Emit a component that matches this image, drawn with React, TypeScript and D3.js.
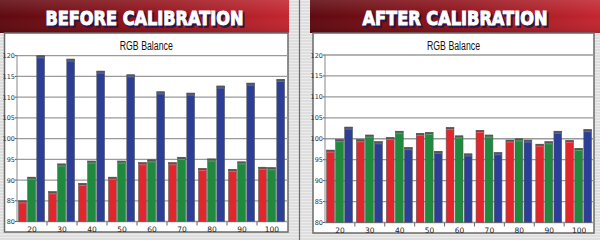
import React from 'react';
import * as d3 from 'd3';

const categories = ['20', '30', '40', '50', '60', '70', '80', '90', '100'];
const beforeRed = [85, 87.2, 89.2, 90.7, 94.2, 94.2, 92.8, 92.6, 93.1];
const beforeGreen = [90.7, 93.9, 94.6, 94.6, 94.9, 95.5, 95.1, 94.4, 93.0];
const beforeBlue = [120, 119.2, 116.3, 115.4, 111.3, 111.0, 112.7, 113.4, 114.3];
const afterRed = [97.3, 99.8, 100.3, 101.3, 102.7, 102.0, 99.7, 98.7, 99.6];
const afterGreen = [99.8, 100.9, 101.8, 101.5, 100.7, 100.9, 100.0, 99.3, 97.7];
const afterBlue = [102.8, 99.3, 97.9, 97.0, 96.4, 96.7, 99.7, 101.8, 102.2];
const yTicks = [80, 85, 90, 95, 100, 105, 110, 115, 120];
const seriesKeys = ['R', 'G', 'B'];
const seriesColors = ['#e3262c', '#1f8a3e', '#2b3f98'];
const panelTitles = ['BEFORE CALIBRATION', 'AFTER CALIBRATION'];
const chartTitle = 'RGB Balance';

type PanelProps = {
  title: string;
  data: number[][];
  headerX0: number;
  headerX1: number;
  boxX0: number;
  boxX1: number;
  boxY1: number;
  plotX0: number;
  plotX1: number;
  yTop: number;
  yBottom: number;
  gid: string;
  titleLen: number;
};

function Panel(p: PanelProps) {
  const x0 = d3.scaleBand<string>().domain(categories).range([p.plotX0, p.plotX1]).paddingInner(0).paddingOuter(0);
  const step = x0.bandwidth();
  const x1 = d3.scaleBand<string>().domain(seriesKeys).range([1.6, step - 2.4]).paddingInner(0.14);
  const y = d3.scaleLinear().domain([80, 120]).range([p.yBottom, p.yTop]);
  const cx = (p.headerX0 + p.headerX1) / 2;
  const boxCx = (p.boxX0 + p.boxX1) / 2;
  return (
    <g>
      <defs>
        <linearGradient id={p.gid} x1="0" x2="1" y1="0" y2="0">
          <stop offset="0" stopColor="#5e0a10" />
          <stop offset="0.5" stopColor="#8e121a" />
          <stop offset="1" stopColor="#c42630" />
        </linearGradient>
        <linearGradient id={p.gid + 'v'} x1="0" x2="0" y1="0" y2="1">
          <stop offset="0" stopColor="#ffffff" stopOpacity="0.12" />
          <stop offset="0.5" stopColor="#ffffff" stopOpacity="0" />
          <stop offset="1" stopColor="#000000" stopOpacity="0.1" />
        </linearGradient>
      </defs>
      <rect x={p.headerX0} y={0} width={p.headerX1 - p.headerX0} height={33} fill={`url(#${p.gid})`} />
      <rect x={p.headerX0} y={0} width={p.headerX1 - p.headerX0} height={33} fill={`url(#${p.gid}v)`} />
      <text x={cx + 1.5} y={26.5} textAnchor="middle" fontFamily="DejaVu Sans" fontWeight="bold" fontSize={20}
        textLength={p.titleLen} lengthAdjust="spacingAndGlyphs" fill="#2a1648" stroke="#2a1648" strokeWidth={1.6}>{p.title}</text>
      <text x={cx} y={25} textAnchor="middle" fontFamily="DejaVu Sans" fontWeight="bold" fontSize={20}
        textLength={p.titleLen} lengthAdjust="spacingAndGlyphs" fill="#ffffff" stroke="#ffffff" strokeWidth={1}>{p.title}</text>
      <rect x={p.boxX0} y={33} width={p.boxX1 - p.boxX0} height={p.boxY1 - 33} fill="#ffffff" stroke="#6a6a6a" strokeWidth={1.5} />
      <text x={boxCx} y={50} textAnchor="middle" fontFamily="Liberation Sans" fontSize={12} fill="#111"
        textLength={53} lengthAdjust="spacingAndGlyphs">{chartTitle}</text>
      {yTicks.map((t) => (
        <g key={t}>
          <line x1={p.plotX0} x2={p.boxX1} y1={y(t)} y2={y(t)} stroke="#9a9a9a" strokeWidth={1.3} />
          <line x1={p.plotX0 - 2} x2={p.plotX0} y1={y(t)} y2={y(t)} stroke="#555" strokeWidth={1} />
          <text x={p.plotX0 - 2} y={y(t) + 2.5} textAnchor="end" fontFamily="DejaVu Sans" fontSize={6.5} fill="#333">{t}</text>
        </g>
      ))}
      <line x1={p.plotX0} x2={p.plotX0} y1={y(120)} y2={y(80)} stroke="#888" strokeWidth={1} />
      {categories.map((c, i) => (
        <g key={c}>
          {i > 0 && <line x1={x0(c)!} x2={x0(c)!} y1={y(80)} y2={y(80) + 4} stroke="#666" strokeWidth={1} />}
          <text x={x0(c)! + step / 2} y={y(80) + 10} textAnchor="middle" fontFamily="DejaVu Sans" fontSize={7.5} fill="#222">{c}</text>
          {seriesKeys.map((k, j) => {
            const v = p.data[j][i];
            const bx = x0(c)! + x1(k)!;
            const bw = x1.bandwidth();
            return (
              <g key={k}>
                <rect x={bx} y={y(v)} width={bw} height={y(80) - y(v)} fill={seriesColors[j]} stroke="#5a5a5a" strokeWidth={0.6} />
                <rect x={bx} y={y(v)} width={bw} height={1.6} fill="#555" />
                <rect x={bx + 0.5} y={y(v) + 1.6} width={bw - 1} height={1} fill="#ffffff" opacity={0.25} />
              </g>
            );
          })}
        </g>
      ))}
    </g>
  );
}

export default function App() {
  const stripes = d3.range(0, 240, 3);
  return (
    <svg width={600} height={240} style={{ position: 'fixed', left: 0, top: 0 }}>
      <rect x={0} y={0} width={600} height={240} fill="#dedede" />
      {stripes.map((s) => (
        <line key={s} x1={0} x2={600} y1={s + 0.5} y2={s + 0.5} stroke="#ececec" strokeWidth={1} />
      ))}
      <line x1={299.5} x2={299.5} y1={0} y2={240} stroke="#6a6a6a" strokeWidth={1.2} />
      <Panel title={panelTitles[0]} data={[beforeRed, beforeGreen, beforeBlue]} headerX0={0} headerX1={289}
        boxX0={4.5} boxX1={288} boxY1={232} plotX0={17} plotX1={287} yTop={55.7} yBottom={221.5} gid="hg1" titleLen={198} />
      <Panel title={panelTitles[1]} data={[afterRed, afterGreen, afterBlue]} headerX0={310} headerX1={600}
        boxX0={313} boxX1={594} boxY1={233} plotX0={325} plotX1={594} yTop={55} yBottom={222.5} gid="hg2" titleLen={185} />
    </svg>
  );
}
